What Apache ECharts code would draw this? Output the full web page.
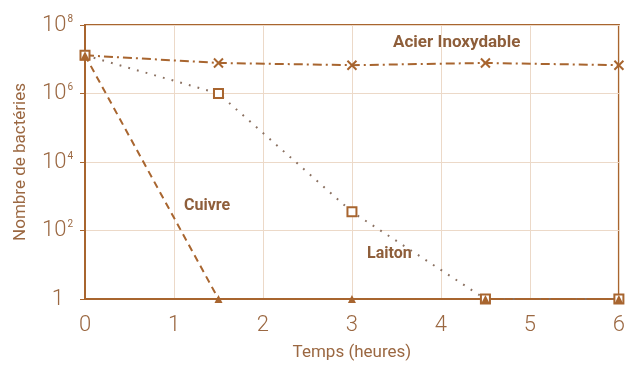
<!DOCTYPE html>
<html><head><meta charset="utf-8">
<script src="https://cdn.jsdelivr.net/npm/echarts@6/dist/echarts.min.js"></script>
<style>html,body{margin:0;padding:0;background:#fff}#c{width:628px;height:372px}</style>
</head><body><div id="c"></div>
<script>
const hours = [0, 1.5, 3, 4.5, 6];
const acier = [1.3e7, 7.8e6, 6.7e6, 7.8e6, 6.7e6];
const laiton = [1.3e7, 1.0e6, 350, 1, 1];
const cuivre = [1.3e7, 1, 1, 1, 1];
const xTicks = [0, 1, 2, 3, 4, 5, 6];
const yTicks = [1, 1e2, 1e4, 1e6, 1e8];
const names = ['Acier Inoxydable', 'Laiton', 'Cuivre'];

const main = '#a8652f';
const txt = '#9b6842';
const grid = '#ecd9c8';
const pair = (arr) => hours.map((h, i) => [h, arr[i]]);

const chart = echarts.init(document.getElementById('c'));
chart.setOption({
  animation: false,
  grid: { left: 85, right: 7, top: 25, bottom: 73, show: true, borderColor: main, borderWidth: 2 },
  xAxis: {
    type: 'value', min: 0, max: 6, interval: 1,
    name: 'Temps (heures)', nameLocation: 'middle', nameGap: 45,
    nameTextStyle: { color: txt, fontSize: 17, fontFamily: 'Roboto' },
    axisLine: { lineStyle: { color: main, width: 2 } },
    axisTick: { show: false },
    axisLabel: { color: txt, fontSize: 22, fontFamily: 'Roboto', fontWeight: 300, margin: 15 },
    splitLine: { lineStyle: { color: grid, width: 1 } }
  },
  yAxis: {
    type: 'log', logBase: 100, min: 1, max: 1e8,
    name: 'Nombre de bactéries', nameLocation: 'middle', nameGap: 56,
    nameTextStyle: { color: txt, fontSize: 17, fontFamily: 'Roboto' },
    axisLine: { show: true, lineStyle: { color: main, width: 2 } },
    axisTick: { show: true, length: 5, lineStyle: { color: main } },
    axisLabel: {
      color: txt, margin: 12,
      formatter: (v) => {
        const e = Math.round(Math.log10(v));
        return e === 0 ? '{o|1}' : '{b|10}{s|' + e + '}';
      },
      rich: {
        b: { fontSize: 22, fontFamily: 'Roboto', fontWeight: 300, color: txt },
        o: { fontSize: 22, fontFamily: 'Roboto', fontWeight: 300, color: txt, padding: [0, 9, 0, 0] },
        s: { fontSize: 10, fontFamily: 'Roboto', color: txt, verticalAlign: 'top', padding: [0, 0, 12, 1] }
      }
    },
    splitLine: { lineStyle: { color: grid, width: 1 } }
  },
  series: [
    {
      name: names[0], type: 'line', data: pair(acier), clip: false,
      symbol: 'path://M0,0L10,10M10,0L0,10', symbolSize: 9,
      itemStyle: { color: 'none', borderColor: main, borderWidth: 2 },
      lineStyle: { color: main, width: 2, type: [9, 4, 2, 4] }
    },
    {
      name: names[1], type: 'line', data: pair(laiton), clip: false,
      symbol: 'rect', symbolSize: 9,
      itemStyle: { color: '#fff', borderColor: main, borderWidth: 2 },
      lineStyle: { color: '#8a7060', width: 2, type: [1.8, 7.2] }
    },
    {
      name: names[2], type: 'line', data: pair(cuivre), clip: false,
      symbol: 'triangle', symbolSize: 8,
      itemStyle: { color: main },
      lineStyle: { color: main, width: 2, type: [7, 5] }
    },
    {
      type: 'scatter', data: [[hours[0], acier[0]], [hours[3], laiton[3]], [hours[4], laiton[4]]], clip: false,
      symbol: 'rect', symbolSize: 10, itemStyle: { color: main }, silent: true, z: 1
    }
  ],
  graphic: [
    { type: 'text', left: 393, top: 34, style: { text: names[0], fill: '#8e5e3a', font: 'bold 17px Roboto' } },
    { type: 'text', left: 184, top: 198, style: { text: names[2], fill: '#8e5e3a', font: 'bold 16px Roboto' } },
    { type: 'text', left: 367, top: 246, style: { text: names[1], fill: '#8e5e3a', font: 'bold 16px Roboto' } }
  ]
});
</script></body></html>
